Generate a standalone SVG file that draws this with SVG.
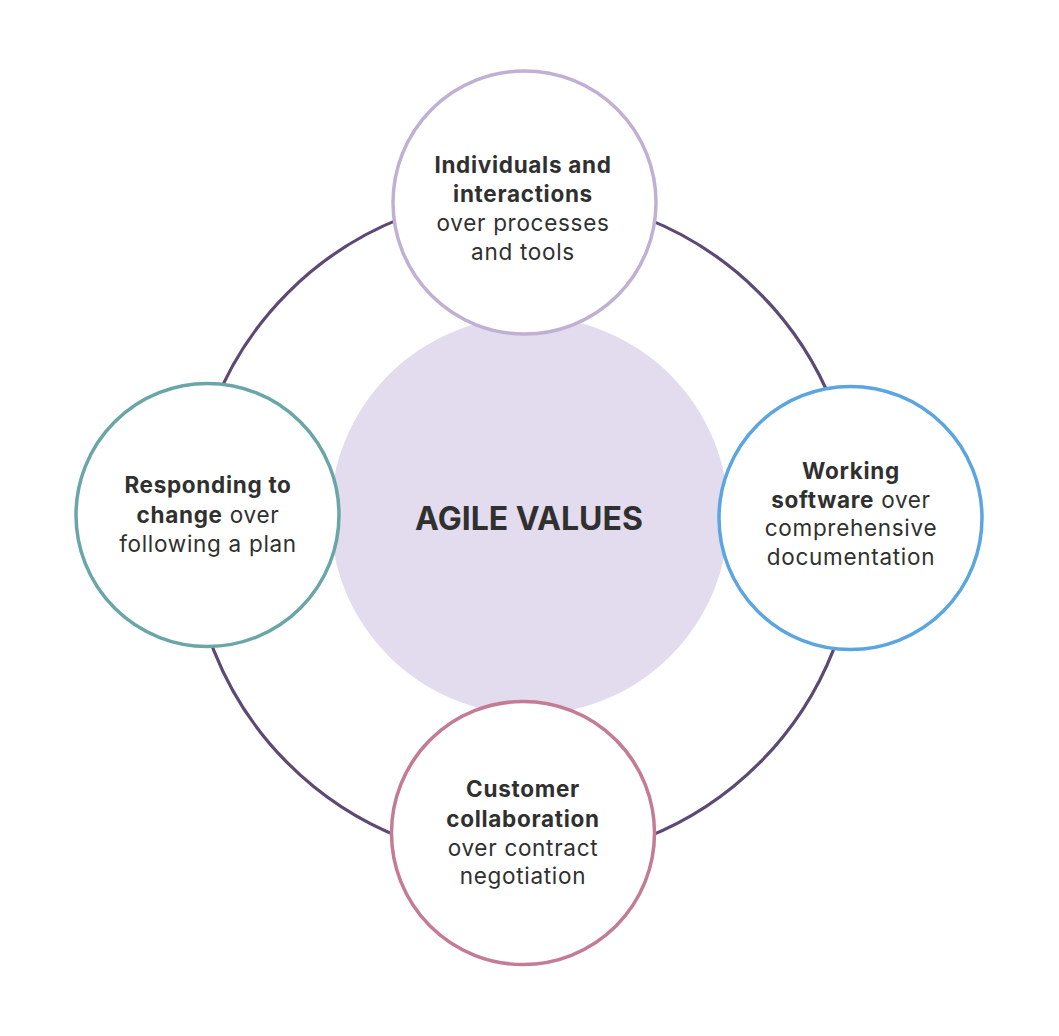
<svg xmlns="http://www.w3.org/2000/svg" width="1059" height="1036" viewBox="0 0 1059 1036">
<style>
text{font-family:Inter,"Noto Sans","Liberation Sans",sans-serif;fill:#303030;text-anchor:middle}
.t{font-size:22.5px;letter-spacing:0.7px}
.b{font-weight:700}
.node{fill:#fff;stroke-width:3.5}
.ring{fill:none;stroke:#5c4a74;stroke-width:3.2}
</style>
<rect width="1059" height="1036" fill="#fff"/>
<g id="connectors">
<circle class="ring" cx="523.5" cy="528" r="333"/>
</g>
<g id="center">
<circle cx="529.5" cy="515.5" r="199" fill="#e3dcee"/>
<text x="529" y="530" font-size="32" class="b">AGILE VALUES</text>
</g>
<g id="node-top">
<circle class="node" cx="524.5" cy="202.5" r="131.5" stroke="#c0b0d4"/>
<text class="t b" x="523" y="173">Individuals and</text>
<text class="t b" x="523" y="202">interactions</text>
<text class="t" x="523" y="231">over processes</text>
<text class="t" x="523" y="260">and tools</text>
</g>
<g id="node-left">
<circle class="node" cx="207.5" cy="515" r="131.5" stroke="#6aa6a8"/>
<text class="t b" x="208" y="493">Responding to</text>
<text class="t" x="208" y="522.5"><tspan class="b">change</tspan> over</text>
<text class="t" x="208" y="551.5">following a plan</text>
</g>
<g id="node-right">
<circle class="node" cx="850.5" cy="518" r="131.5" stroke="#5ba5e0"/>
<text class="t b" x="851" y="479">Working</text>
<text class="t" x="851" y="507.5"><tspan class="b">software</tspan> over</text>
<text class="t" x="851" y="536">comprehensive</text>
<text class="t" x="851" y="565">documentation</text>
</g>
<g id="node-bottom">
<circle class="node" cx="523" cy="833" r="131.5" stroke="#c47b95"/>
<text class="t b" x="523" y="797">Customer</text>
<text class="t b" x="523" y="826.5">collaboration</text>
<text class="t" x="523" y="855.5">over contract</text>
<text class="t" x="523" y="884">negotiation</text>
</g>
</svg>
